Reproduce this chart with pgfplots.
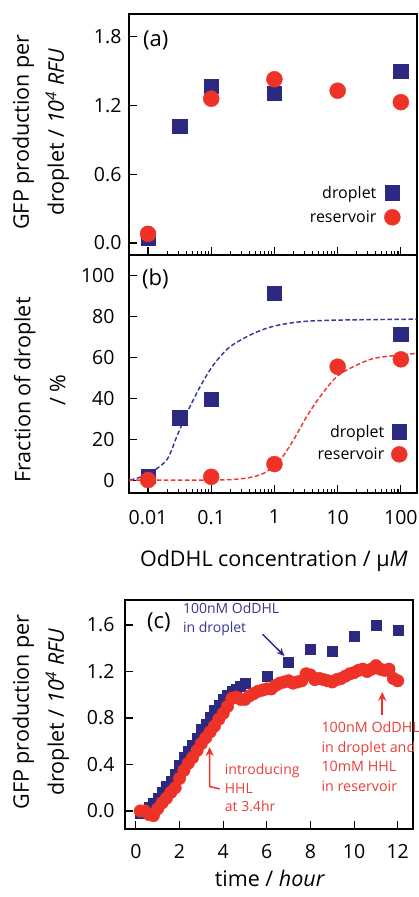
\documentclass[border=0pt]{standalone}
\usepackage{pgfplots}
\pgfplotsset{compat=1.18}
\usepackage{fontspec}
\setmainfont{Open Sans}
\usetikzlibrary{arrows.meta}
\definecolor{navy}{RGB}{44,42,128}
\definecolor{myred}{RGB}{238,50,40}
\definecolor{navyline}{RGB}{55,55,150}
\definecolor{redline}{RGB}{238,55,50}
\definecolor{navytext}{RGB}{55,55,145}
\definecolor{redtext}{RGB}{232,62,58}
\pgfplotsset{
  panel/.style={
    scale only axis, width=288pt,
    axis line style={line width=1.6pt},
    every tick/.style={black, line width=1.1pt},
    major tick length=8pt, minor tick length=4pt,
    tick align=inside, tick pos=left,
    tick label style={font=\fontsize{19.5}{23}\selectfont},
    label style={font=\fontsize{21.5}{26}\selectfont},
    clip=false,
    legend plot pos=right, legend cell align=right,
  },
  sq/.style={only marks, mark=square*, mark size=7.25pt, color=navy},
  ci/.style={only marks, mark=*, mark size=8pt, color=myred},
}
\begin{document}
\begin{tikzpicture}
\useasboundingbox (0pt,0pt) rectangle (418pt,897pt);
\clip (0pt,0pt) rectangle (418pt,897pt);
% ---------------- (a)
\begin{axis}[panel, at={(129pt,642pt)}, anchor=south west, height=241pt,
  xmode=log, xmin=0.005, xmax=180, ymin=-0.105, ymax=2.0,
  xtick={0.01,0.1,1,10,100}, xticklabels={\mbox{},\mbox{},\mbox{},\mbox{},\mbox{}},
  ytick={0,0.6,1.2,1.8}, yticklabels={0.0,0.6,1.2,1.8},
  yticklabel style={xshift=-4pt},
  ylabel={GFP production per\\[9pt]droplet / \textit{10\textsuperscript{4} RFU}},
  ylabel style={align=center, at={(axis description cs:-0.306,0.51)}, anchor=center},
  legend style={draw=none, fill=none, font=\fontsize{16}{19}\selectfont,
    at={(axis description cs:0.943,0.2075)}, anchor=east,
    inner xsep=0pt, inner ysep=0pt, row sep=7pt, column sep=6pt},
]
\addplot[sq] coordinates {(0.01,0.04) (0.0316,1.02) (0.1,1.37) (1,1.31) (100,1.50)};
\addlegendentry{droplet}
\addplot[ci] coordinates {(0.01,0.08) (0.1,1.26) (1,1.43) (10,1.33) (100,1.23)};
\addlegendentry{reservoir}
\node[anchor=west, font=\fontsize{22}{26}\selectfont, inner sep=0pt] at (rel axis cs:0.0486,0.892) {(a)};
\end{axis}
% ---------------- (b)
\begin{axis}[panel, at={(129pt,404pt)}, anchor=south west, height=238pt,
  xmode=log, xmin=0.005, xmax=180, ymin=-6.3, ymax=109.8,
  xtick={0.01,0.1,1,10,100}, xticklabels={0.01,0.1,1,10,100},
  xticklabel style={yshift=-13.5pt},
  ytick={0,20,40,60,80,100}, yticklabels={0,20,40,60,80,100},
  yticklabel style={xshift=-11pt},
  ylabel={Fraction of droplet\\[9pt]/ \%},
  ylabel style={align=center, at={(axis description cs:-0.31,0.433)}, anchor=center},
  xlabel={OdDHL concentration / µ\textit{M}},
  xlabel style={at={(axis description cs:0.503,-0.31)}, anchor=base},
  legend style={draw=none, fill=none, font=\fontsize{16}{19}\selectfont,
    at={(axis description cs:0.967,0.21)}, anchor=east,
    inner xsep=0pt, inner ysep=0pt, row sep=5pt, column sep=5pt},
]
\addplot[navyline, line width=1.45pt, dash pattern=on 4.5pt off 2.5pt, smooth, forget plot] coordinates {
(0.00519,0) (0.01,2.9) (0.0197,9.8) (0.0284,21.1) (0.0409,32.5) (0.0665,45.5) (0.108,56.1) (0.198,65.0) (0.463,71.5) (0.986,75.1) (2.54,77.2) (8.57,78.0) (178,78.5)};
\addplot[redline, line width=1.45pt, dash pattern=on 4.5pt off 2.5pt, smooth, forget plot] coordinates {
(0.005,0) (0.0665,0) (0.224,0.3) (0.463,1.6) (0.755,4.1) (1.227,9.8) (1.995,19.5) (3.243,31.0) (5.272,40.7) (9.68,50.5) (17.74,55.3) (36.7,59.3) (97.0,61.0) (178,61.8)};
\addplot[sq] coordinates {(0.01,2) (0.0316,30.4) (0.1,39.4) (1,91.1) (100,71.1)};
\addlegendentry{droplet}
\addplot[ci] coordinates {(0.01,0) (0.1,1.6) (1,7.8) (10,55.3) (100,58.9)};
\addlegendentry{reservoir}
\node[anchor=west, font=\fontsize{22}{26}\selectfont, inner sep=0pt] at (rel axis cs:0.045,0.899) {(b)};
\end{axis}
% ---------------- (c)
\begin{axis}[panel, at={(125pt,68pt)}, anchor=south west, height=229pt,
  xmin=-0.5, xmax=12.7, ymin=-0.155, ymax=1.815,
  xtick={0,2,4,6,8,10,12}, xticklabels={0,2,4,6,8,10,12},
  xticklabel style={yshift=-11.5pt},
  ytick={0,0.4,0.8,1.2,1.6}, yticklabels={0.0,0.4,0.8,1.2,1.6},
  yticklabel style={xshift=-7pt},
  ylabel={GFP production per\\[9pt]droplet / \textit{10\textsuperscript{4} RFU}},
  ylabel style={align=center, at={(axis description cs:-0.292,0.511)}, anchor=center},
  xlabel={time / \textit{hour}},
  xlabel style={at={(axis description cs:0.503,-0.252)}, anchor=base},
]
\addplot[only marks, mark=square*, mark size=5pt, color=navy] coordinates {
(0.2,-0.02) (0.4,0.00) (0.6,0.03) (0.8,0.07) (1.0,0.11) (1.2,0.16) (1.4,0.21) (1.6,0.26) (1.8,0.32) (2.0,0.39)
(2.2,0.46) (2.4,0.51) (2.6,0.57) (2.8,0.63) (3.0,0.70) (3.2,0.75) (3.4,0.81) (3.6,0.87) (3.8,0.91) (4.0,0.96)
(4.2,1.00) (4.4,1.03) (4.6,1.05) (4.8,1.07) (5.0,1.10) (6,1.16) (7,1.276) (8,1.39) (9,1.376) (10,1.505) (11,1.60) (12,1.557)};
\addplot[only marks, mark=*, mark size=6.25pt, color=myred] coordinates {
(0.2,0.00) (0.4,0.00) (0.6,-0.03) (0.8,-0.04) (1.0,0.02) (1.2,0.07) (1.4,0.11) (1.6,0.16) (1.8,0.20) (2.0,0.28)
(2.2,0.35) (2.4,0.41) (2.6,0.46) (2.8,0.52) (3.0,0.58) (3.2,0.63) (3.4,0.68) (3.6,0.73) (3.8,0.79) (4.0,0.84)
(4.2,0.90) (4.4,0.97) (4.6,0.98) (4.8,0.96) (5.0,0.96) (5.2,0.99) (5.4,1.01) (5.6,1.03) (5.8,1.04) (6.0,1.05)
(6.2,1.05) (6.4,1.08) (6.6,1.10) (6.8,1.11) (7.0,1.12) (7.2,1.10) (7.4,1.11) (7.6,1.12) (7.8,1.18) (8.0,1.17)
(8.2,1.13) (8.4,1.14) (8.6,1.13) (8.8,1.12) (9.0,1.11) (9.2,1.13) (9.4,1.14) (9.6,1.16) (9.8,1.18) (10.0,1.19)
(10.2,1.21) (10.4,1.22) (10.6,1.20) (10.8,1.22) (11.0,1.25) (11.2,1.22) (11.4,1.21) (11.6,1.22) (11.8,1.14) (12.0,1.12)};
\node[anchor=west, font=\fontsize{22}{26}\selectfont, inner sep=0pt] at (rel axis cs:0.076,0.904) {(c)};
\node[anchor=west, align=left, inner sep=0pt, text=navytext, font=\fontsize{14}{19}\selectfont] at (axis cs:2.15,1.645) {100nM OdDHL\\in droplet};
\draw[navy, line width=1.5pt, -{Stealth[length=8pt,width=7pt]}] (axis cs:5.81,1.52) -- (axis cs:6.81,1.333);
\node[anchor=west, align=left, inner sep=0pt, text=redtext, font=\fontsize{14}{18.5}\selectfont] at (axis cs:4.07,0.198) {introducing\\HHL\\at 3.4hr};
\draw[myred, line width=1.5pt, -{Stealth[length=9pt,width=8pt]}] (axis cs:3.84,0.19) -- (axis cs:3.38,0.21) -- (axis cs:3.38,0.55);
\node[anchor=west, align=left, inner sep=0pt, text=redtext, font=\fontsize{14.3}{19.5}\selectfont] at (axis cs:8.5,0.469) {100nM OdDHL\\in droplet and\\10mM HHL\\in reservoir};
\draw[myred, line width=1.5pt, -{Stealth[length=9pt,width=8pt]}] (axis cs:11.29,0.826) -- (axis cs:11.29,1.024);
\end{axis}
\end{tikzpicture}
\end{document}
